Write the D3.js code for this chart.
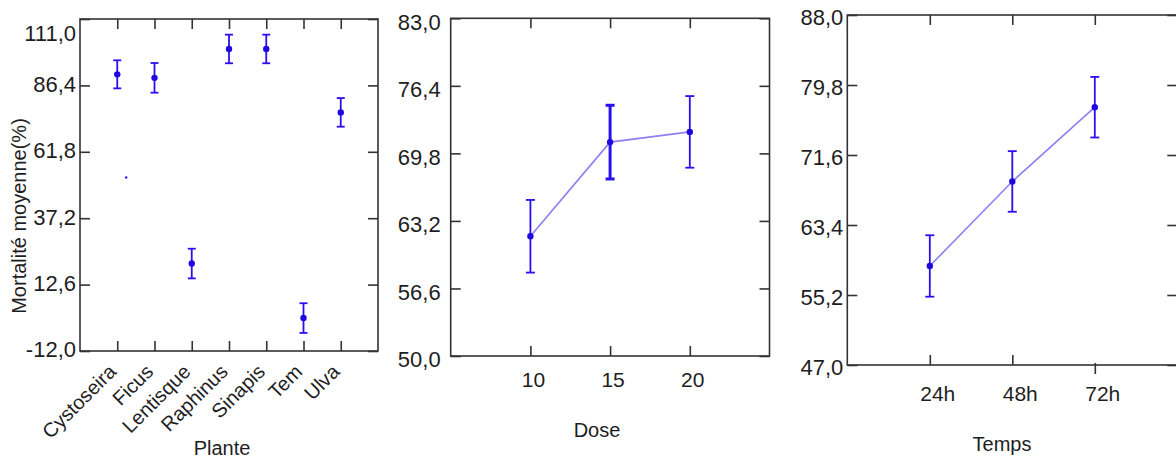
<!DOCTYPE html>
<html><head><meta charset="utf-8">
<script src="https://cdn.jsdelivr.net/npm/d3@7/dist/d3.min.js"></script>
<style>
body{margin:0;background:#fff;}
text{font-family:"Liberation Sans",Arial,sans-serif;fill:#1e1e1e;}
</style></head>
<body><svg id="c" width="1176" height="460"></svg>
<script>
// ---- Panel 1: Plante ----
const planteCats = ["Cystoseira","Ficus","Lentisque","Raphinus","Sinapis","Tem","Ulva"];
const planteMean = [90.5, 89.2, 20.4, 99.9, 99.9, 0.2, 76.4];
const planteErr  = [5.2, 5.5, 5.5, 5.3, 5.3, 5.5, 5.3];
const planteTicks = [-12.0, 12.6, 37.2, 61.8, 86.4, 111.0];
const planteStrayX = [1.24];
const planteStrayY = [52.3];

// ---- Panel 2: Dose ----
const doseCats = [10, 15, 20];
const doseMean = [61.7, 70.9, 71.9];
const doseErr  = [3.55, 3.6, 3.5];
const doseTicks = [50.0, 56.6, 63.2, 69.8, 76.4, 83.0];

// ---- Panel 3: Temps ----
const tempsCats = ["24h","48h","72h"];
const tempsMean = [58.6, 68.5, 77.2];
const tempsErr  = [3.6, 3.55, 3.55];
const tempsTicks = [47.0, 55.2, 63.4, 71.6, 79.8, 88.0];

const svg = d3.select("#c");
const fmt = v => d3.format(".1f")(v).replace(".", ",").replace("−","-");
const BAR = "#2a10f0", DOT = "#1d08e0", LINE = "#8c80f2", FRAME = "#333";

function panel(o){
  const g = svg.append("g");
  const x = d3.scaleLinear().domain(o.xDomain).range([o.left, o.right]);
  const y = d3.scaleLinear().domain(o.yDomain).range([o.bottom, o.top]);
  const tl = 10;
  g.append("rect").attr("x",o.left).attr("y",o.top)
    .attr("width",o.right-o.left).attr("height",o.bottom-o.top)
    .attr("fill","none").attr("stroke",FRAME).attr("stroke-width",1.6);
  const yl = g.append("g").attr("transform",`translate(${o.left},0)`)
    .call(d3.axisLeft(y).tickValues(o.yTicks).tickSize(-tl).tickPadding(o.yPad).tickFormat(fmt));
  yl.select(".domain").remove();
  yl.selectAll("line").attr("stroke",FRAME).attr("stroke-width",1.6);
  yl.selectAll("text").attr("font-size",o.tickFs).attr("fill","#1e1e1e")
    .attr("dy",(d,i)=> (o.yDy(d,i)) + "px").attr("dominant-baseline","middle");
  const yr = g.append("g").attr("transform",`translate(${o.right},0)`)
    .call(d3.axisRight(y).tickValues(o.yTicks).tickSize(-tl).tickFormat(""));
  yr.select(".domain").remove();
  yr.selectAll("line").attr("stroke",FRAME).attr("stroke-width",1.6);
  const xt = g.append("g").attr("transform",`translate(0,${o.top})`)
    .call(d3.axisTop(x).tickValues(o.xPos).tickSize(-tl).tickFormat(""));
  xt.select(".domain").remove();
  xt.selectAll("line").attr("stroke",FRAME).attr("stroke-width",1.6);
  const xb = g.append("g").attr("transform",`translate(0,${o.bottom})`)
    .call(d3.axisBottom(x).tickValues(o.xPos).tickSize(-tl).tickFormat(""));
  xb.select(".domain").remove();
  xb.selectAll("line").attr("stroke",FRAME).attr("stroke-width",1.6);
  if (o.flipLast) {
    xb.selectAll(".tick").filter((d,i)=> i===o.xPos.length-1).select("line")
      .attr("y1",-2).attr("y2",9);
  }
  if (o.rotate) {
    g.selectAll(".xl").data(o.xLabels).join("text")
      .attr("transform",(d,i)=>`translate(${x(o.xPos[i])+o.xlDx},${o.bottom+o.xlDy}) rotate(-45)`)
      .attr("text-anchor","end").attr("font-size",o.catFs).text(d=>d);
  } else {
    g.selectAll(".xl").data(o.xLabels).join("text")
      .attr("x",(d,i)=>x(o.xPos[i])+o.xlDx).attr("y",o.bottom+o.xlDy)
      .attr("text-anchor","middle").attr("font-size",o.catFs).text(d=>d);
  }
  g.append("text").attr("x",o.titleX).attr("y",o.titleY).attr("text-anchor","middle")
    .attr("font-size",o.titleFs).text(o.title);
  if (o.line) {
    g.append("path").datum(o.mean)
      .attr("d", d3.line().x((d,i)=>x(o.xPos[i])).y(d=>y(d)))
      .attr("fill","none").attr("stroke",LINE).attr("stroke-width",1.6);
  }
  o.mean.forEach((m,i)=>{
    const cx = x(o.xPos[i]);
    const w = (o.bold && o.bold.includes(i)) ? 3 : 1.8;
    const cw = o.capW;
    g.append("line").attr("x1",cx).attr("x2",cx).attr("y1",y(m+o.err[i])).attr("y2",y(m-o.err[i]))
      .attr("stroke",BAR).attr("stroke-width",w);
    [m+o.err[i], m-o.err[i]].forEach(v=>{
      g.append("line").attr("x1",cx-cw).attr("x2",cx+cw).attr("y1",y(v)).attr("y2",y(v))
        .attr("stroke",BAR).attr("stroke-width",w);
    });
    g.append("circle").attr("cx",cx).attr("cy",y(m)).attr("r",3.2).attr("fill",DOT);
  });
  if (o.strayX) {
    o.strayX.forEach((sx,i)=>{
      g.append("circle").attr("cx",x(sx)).attr("cy",y(o.strayY[i])).attr("r",1.2).attr("fill",BAR);
    });
  }
  return g;
}

panel({left:80,right:378,top:19,bottom:351,
  xDomain:[0,8], yDomain:[-12,111], yTicks:planteTicks,
  xPos:planteCats.map((d,i)=>i+1), xLabels:planteCats, rotate:true,
  xlDx:0, xlDy:22, catFs:20, tickFs:22, yPad:4,
  yDy:(d,i)=> d===111 ? 16 : 0,
  mean:planteMean, err:planteErr, capW:4, line:false,
  strayX:planteStrayX, strayY:planteStrayY,
  title:"Plante", titleX:222, titleY:455, titleFs:20});

svg.append("text").attr("transform","translate(26,216) rotate(-90)")
  .attr("text-anchor","middle").attr("font-size",20).text("Mortalité moyenne(%)");

panel({left:450.7,right:769.5,top:18.3,bottom:356,
  xDomain:[5,25], yDomain:[50,83], yTicks:doseTicks,
  xPos:doseCats, xLabels:doseCats.map(String), rotate:false,
  xlDx:3, xlDy:31, catFs:21, tickFs:22, yPad:10,
  yDy:(d,i)=> 5,
  mean:doseMean, err:doseErr, capW:4.5, line:true, bold:[1],
  title:"Dose", titleX:597, titleY:437, titleFs:20});

panel({left:847.3,right:1177.3,top:15,bottom:365,
  xDomain:[0,4], yDomain:[47,88], yTicks:tempsTicks,
  xPos:tempsCats.map((d,i)=>i+1), xLabels:tempsCats, rotate:false,
  xlDx:8, xlDy:36, catFs:21, tickFs:22, yPad:4, flipLast:true,
  yDy:(d,i)=> 4,
  mean:tempsMean, err:tempsErr, capW:4.5, line:true,
  title:"Temps", titleX:1002, titleY:451, titleFs:20});
</script></body></html>
